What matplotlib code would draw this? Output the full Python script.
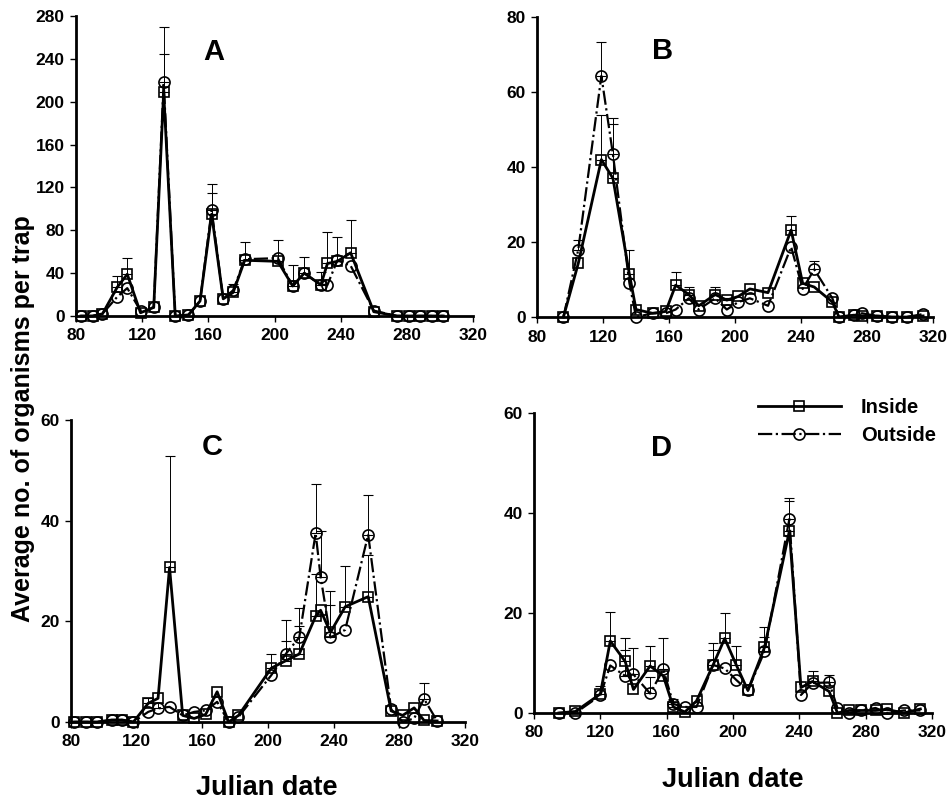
import numpy as np
import matplotlib.pyplot as plt

plt.rcParams['font.family'] = ['Liberation Sans', 'DejaVu Sans']
plt.rcParams['font.weight'] = 'bold'

# ── Data ──────────────────────────────────────────────────────────────────────
# Panel A
a_days = [83, 90, 96, 105, 111, 119, 127, 133, 140, 148, 155, 162, 169, 175,
          182, 202, 211, 218, 228, 232, 238, 246, 260, 274, 281, 288, 295, 302]
a_in = [0, 0, 2, 27, 39, 3, 8, 209, 0, 1, 14, 95, 16, 22,
        52, 51, 28, 40, 29, 49, 51, 59, 4, 0, 0, 0, 0, 0]
a_out = [0, 0, 2, 18, 26, 5, 8, 218, 0, 1, 14, 99, 16, 24,
         53, 54, 28, 40, 29, 29, 52, 47, 5, 0, 0, 0, 0, 0]
a_in_err = [0, 0, 0, 10, 15, 0, 0, 36, 0, 0, 0, 20, 0, 8,
            17, 20, 20, 15, 12, 29, 23, 31, 0, 0, 0, 0, 0, 0]
a_out_err = [0, 0, 0, 0, 0, 0, 0, 52, 0, 0, 0, 24, 0, 0,
             0, 0, 0, 0, 0, 0, 0, 0, 0, 0, 0, 0, 0, 0]

# Panel B
b_days = [96, 105, 119, 126, 136, 140, 150, 158, 164, 172, 178, 188, 195, 202,
          209, 220, 234, 241, 248, 259, 263, 272, 277, 286, 295, 304, 314]
b_in = [0, 14.3, 42, 37, 11.4, 2, 1, 1.5, 8.5, 6, 3, 6, 4.5, 5.5,
        7.5, 6.5, 23.2, 9, 8, 4, 0, 0.5, 0.3, 0.3, 0, 0, 0.3]
b_out = [0, 18, 64.3, 43.4, 9, 0, 1, 1, 2, 5, 2, 5, 2, 4,
         5, 3, 18.7, 7.5, 12.7, 5, 0, 0.5, 1, 0.3, 0, 0, 0.8]
b_in_err = [0, 0, 12, 16, 6.6, 0, 0, 0, 3.5, 2, 0, 2, 0.5, 0,
            0, 0, 3.8, 0, 0, 0, 0, 0, 0, 0, 0, 0, 0]
b_out_err = [0, 2.5, 9, 8, 0, 0, 0, 0, 0, 0, 0, 0, 0, 0,
             0, 0, 0, 0, 2.3, 0, 0, 0, 0, 0, 0, 0, 0]

# Panel C
c_days = [82, 89, 96, 105, 111, 118, 127, 133, 140, 148, 155, 162, 169, 176,
          182, 202, 211, 219, 229, 232, 238, 247, 261, 275, 282, 289, 295, 303]
c_in = [0, 0, 0, 0.4, 0.4, 0, 3.7, 4.7, 30.7, 1.3, 0.7, 1.5, 6, 0,
        1.3, 10.7, 12.2, 13.5, 21, 22.2, 17.8, 22.9, 24.9, 2.2, 1.3, 2.8, 0.3, 0.2]
c_out = [0, 0, 0, 0.4, 0.4, 0, 2, 2.7, 3, 1.3, 2, 2.3, 4, 0,
         1, 9.3, 13.6, 16.8, 37.5, 28.9, 16.8, 18.3, 37.2, 2.5, 0, 0.7, 4.6, 0.2]
c_in_err = [0, 0, 0, 0, 0, 0, 1, 0, 22.2, 0, 0, 0, 0, 0,
            0, 2.8, 3.8, 5.5, 8.4, 0, 5.4, 8.1, 8.3, 0, 0, 0, 0, 0]
c_out_err = [0, 0, 0, 0, 0, 0, 0, 1, 0, 0, 0, 0, 0, 0,
             0, 0, 6.7, 5.8, 9.7, 9.1, 9.2, 0, 7.9, 0, 0, 0, 3.2, 0]

# Panel D
d_days = [95, 105, 120, 126, 135, 140, 150, 158, 164, 171, 178, 188, 195, 202,
          209, 219, 234, 241, 248, 258, 263, 270, 277, 286, 293, 303, 313]
d_in = [0, 0.3, 3.8, 14.4, 10.3, 4.7, 9.4, 7.4, 1.2, 0.2, 2.4, 9.6, 14.9, 9.6,
        4.5, 13.1, 36.4, 5.1, 6.3, 4.3, 0, 0.5, 0.5, 0.5, 0.7, 0, 0.8]
d_out = [0, 0, 3.5, 9.5, 7.4, 7.7, 3.9, 8.7, 1.8, 1.2, 1.2, 9.6, 8.9, 6.6,
         4.5, 12.3, 38.8, 3.6, 6.0, 6.1, 1.0, 0, 0.5, 1.0, 0, 0.5, 0.5]
d_in_err = [0, 0, 1.5, 5.7, 4.7, 0, 3.9, 0, 1, 0, 0, 4.3, 5.0, 3.8,
            0, 4, 6.1, 0, 2, 0, 0, 0, 0, 0, 0, 0, 0]
d_out_err = [0, 0, 0, 0, 5.2, 5.2, 3.3, 6.2, 1, 0, 0, 3.0, 0, 0,
             0, 2.8, 4.3, 0, 0, 1.4, 0, 0, 0, 0, 0, 0, 0]

panels = [
    ("A", a_days, a_in, a_out, a_in_err, a_out_err, 280, 40, (163, 246)),
    ("B", b_days, b_in, b_out, b_in_err, b_out_err, 80, 20, (156, 71)),
    ("C", c_days, c_in, c_out, c_in_err, c_out_err, 60, 20, (166, 54.6)),
    ("D", d_days, d_in, d_out, d_in_err, d_out_err, 60, 20, (157, 53)),
]

# axes rectangles in figure fractions (left, bottom, width, height)
rects = [
    (0.0799, 0.606, 0.4175, 0.374),
    (0.5647, 0.6047, 0.4164, 0.374),
    (0.0747, 0.0998, 0.4143, 0.3765),
    (0.5615, 0.111, 0.4185, 0.374),
]

fig = plt.figure(figsize=(9.51, 8.02), dpi=100)

for (letter, days, vin, vout, ein, eout, ymax, ystep, lpos), rect in zip(panels, rects):
    ax = fig.add_axes(rect)
    days = np.array(days)
    vin, vout = np.array(vin, float), np.array(vout, float)
    ein, eout = np.array(ein, float), np.array(eout, float)

    # upper error bars only
    for v, e in ((vin, ein), (vout, eout)):
        m = e > 0
        ax.errorbar(days[m], v[m], yerr=[np.zeros(m.sum()), e[m]], fmt="none",
                    ecolor="black", elinewidth=0.7, capsize=3.5, capthick=0.8,
                    zorder=2)

    ax.plot(days, vin, color="black", lw=2.0, ls="-", marker="s", ms=7.5,
            mfc="none", mec="black", mew=1.2, clip_on=False, zorder=3,
            label="Inside")
    ax.plot(days, vout, color="black", lw=1.6, ls="-.", marker="o", ms=8,
            mfc="none", mec="black", mew=1.2, clip_on=False, zorder=3,
            label="Outside")

    ax.set_xlim(80, 320)
    ax.set_ylim(0, ymax)
    ax.set_xticks(np.arange(80, 321, 40))
    ax.set_yticks(np.arange(0, ymax + 1, ystep))
    for s in ("top", "right"):
        ax.spines[s].set_visible(False)
    for s in ("left", "bottom"):
        ax.spines[s].set_linewidth(2.0)
    ax.tick_params(axis="both", direction="out", length=4, width=1,
                   labelsize=12.5, pad=4)
    ax.tick_params(axis="x", pad=5)
    for lab in ax.get_xticklabels() + ax.get_yticklabels():
        lab.set_fontweight("bold")

    ax.text(lpos[0], lpos[1], letter, fontsize=21, fontweight="bold",
            ha="center", va="center")

    if letter == "D":
        ax.legend(loc="upper left", bbox_to_anchor=(758 / 951, 0.504),
                  bbox_transform=fig.transFigure, frameon=False,
                  handlelength=4.1, handletextpad=1.0,
                  labelspacing=0.45, borderpad=0, borderaxespad=0,
                  prop={"weight": "bold", "size": 14.5})

fig.text(0.024, 0.4776, "Average no. of organisms per trap", rotation=90,
         ha="center", va="center", fontsize=18, fontweight="bold")
fig.text(0.281, 0.0175, "Julian date", ha="center", va="center",
         fontsize=19.5, fontweight="bold")
fig.text(0.770, 0.027, "Julian date", ha="center", va="center",
         fontsize=19.5, fontweight="bold")

fig.savefig("out.png", dpi=100)
